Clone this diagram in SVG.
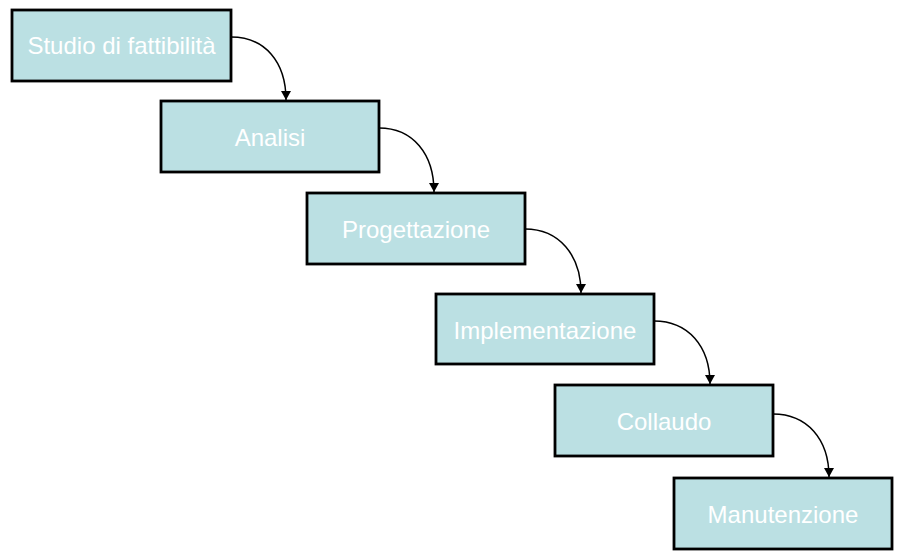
<svg xmlns="http://www.w3.org/2000/svg" width="902" height="557" viewBox="0 0 902 557">
<style>
.box{fill:#bbe0e3;stroke:#000;stroke-width:2.8}
.lbl{fill:#fff;font-family:"Liberation Sans",Arial,sans-serif;font-size:24px;text-anchor:middle}
.con{fill:none;stroke:#000;stroke-width:1.5}
</style>
<defs>
<marker id="arr" markerUnits="userSpaceOnUse" markerWidth="10" markerHeight="12" refX="9" refY="5" orient="auto">
<path d="M0,0 L9,5 L0,10 Z" fill="#000"/>
</marker>
</defs>
<rect width="902" height="557" fill="#fff"/>
<g id="connectors">
<path class="con" d="M231,37 C265,37 286,62 286,100" marker-end="url(#arr)"/>
<path class="con" d="M379,128 C413,128 434,154 434,192" marker-end="url(#arr)"/>
<path class="con" d="M525,229 C559,229 581,255 581,293" marker-end="url(#arr)"/>
<path class="con" d="M654,321 C688,321 710,346 710,384" marker-end="url(#arr)"/>
<path class="con" d="M773,414 C807,414 829,439 829,477" marker-end="url(#arr)"/>
</g>
<g id="n1"><rect class="box" x="12" y="10" width="219" height="71"/><text class="lbl" x="121.5" y="54">Studio di fattibilità</text></g>
<g id="n2"><rect class="box" x="161" y="101" width="218" height="71"/><text class="lbl" x="270" y="145.5">Analisi</text></g>
<g id="n3"><rect class="box" x="307" y="193" width="218" height="71"/><text class="lbl" x="416" y="237.5">Progettazione</text></g>
<g id="n4"><rect class="box" x="436" y="294" width="218" height="70"/><text class="lbl" x="545" y="338.5">Implementazione</text></g>
<g id="n5"><rect class="box" x="555" y="385" width="218" height="71"/><text class="lbl" x="664" y="429.5">Collaudo</text></g>
<g id="n6"><rect class="box" x="674" y="478" width="218" height="71"/><text class="lbl" x="783" y="522.5">Manutenzione</text></g>
</svg>
